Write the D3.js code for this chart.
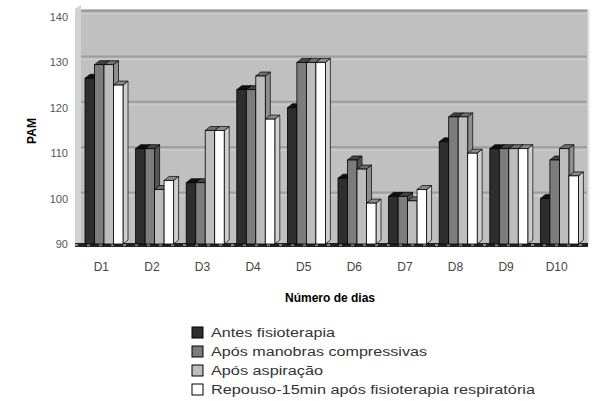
<!DOCTYPE html>
<html><head><meta charset="utf-8">
<script src="https://cdn.jsdelivr.net/npm/d3@7"></script>
<style>body{margin:0;background:#fff}svg{display:block}</style>
</head><body>
<script>
const categories = ["D1","D2","D3","D4","D5","D6","D7","D8","D9","D10"];
const seriesNames = ["Antes fisioterapia","Após manobras compressivas","Após aspiração","Repouso-15min após fisioterapia respiratória"];
const antes = [126.5,111,103.5,124,120,104.5,100.5,112.5,111,100];
const aposManobras = [129.5,111,103.5,124,130,108.5,100.5,118,111,108.5];
const aposAspiracao = [129.5,102,115,127,130,106.5,99.5,118,111,111];
const repouso = [125,104,115,117.5,130,99,102,110,111,105];
const yTicks = [90,100,110,120,130,140];

const series = [antes, aposManobras, aposAspiracao, repouso];
const fills = ["#2e2e2e","#7c7c7c","#bdbdbd","#ffffff"];
const sides = ["#1a1a1a","#555555","#8e8e8e","#cfcfcf"];
const tops = ["#111111","#444444","#6e6e6e","#8a8a8a"];

const W=593,H=401;
const svg=d3.select("body").append("svg").attr("width",W).attr("height",H).style("font-family","Liberation Sans, Arial, sans-serif");

const y=d3.scaleLinear().domain([90,140]).range([244,17]);
const x=d3.scaleBand().domain(categories).range([76,582]);
const dx=5, dy=4;

// plot area
svg.append("rect").attr("x",75).attr("y",9).attr("width",513).attr("height",236).attr("fill","#c0c0c0");
// left side wall
svg.append("polygon").attr("points",`75,9 81,5 81,241 75,245`).attr("fill","#d2d2d2");
svg.append("line").attr("x1",588.5).attr("x2",588.5).attr("y1",9).attr("y2",245).attr("stroke","#e2e2e2").attr("stroke-width",2);

// gridlines (back wall)
svg.append("g").selectAll("line").data(yTicks.filter(d=>d>90)).join("line")
  .attr("x1",81).attr("x2",587).attr("y1",d=>y(d)-6).attr("y2",d=>y(d)-6)
  .attr("stroke","#9c9c9c").attr("stroke-width",2);
svg.append("g").selectAll("line").data(yTicks.filter(d=>d>90)).join("line")
  .attr("x1",81).attr("x2",587).attr("y1",d=>y(d)-3).attr("y2",d=>y(d)-3)
  .attr("stroke","#d0d0d0").attr("stroke-width",1);

// floor
svg.append("rect").attr("x",75).attr("y",243).attr("width",513).attr("height",4).attr("fill","#222");
svg.append("line").attr("x1",75).attr("x2",588).attr("y1",245).attr("y2",245).attr("stroke","#eee").attr("stroke-width",1).attr("stroke-dasharray","3,9");

// bars
const bw=9.5, off=9;
const g=svg.append("g");
categories.forEach((c,i)=>{
  series.forEach((s,k)=>{
    const x0=x(c)+off+k*bw, x1=x0+bw, yt=y(s[i]), yb=y(90);
    g.append("polygon").attr("points",`${x1},${yt} ${x1+dx},${yt-dy} ${x1+dx},${yb-dy} ${x1},${yb}`)
      .attr("fill",sides[k]).attr("stroke","#000").attr("stroke-width",0.7);
    g.append("polygon").attr("points",`${x0},${yt} ${x0+dx},${yt-dy} ${x1+dx},${yt-dy} ${x1},${yt}`)
      .attr("fill",tops[k]).attr("stroke","#000").attr("stroke-width",0.7);
    g.append("rect").attr("x",x0).attr("y",yt).attr("width",bw).attr("height",yb-yt)
      .attr("fill",fills[k]).attr("stroke","#000").attr("stroke-width",0.8);
  });
});

// y axis labels
const yAxis=d3.axisLeft(y).tickValues(yTicks).tickSize(0).tickPadding(0);
const ya=svg.append("g").attr("transform","translate(68,0)").call(yAxis);
ya.select(".domain").remove();
ya.selectAll("text").attr("font-size",11).attr("fill","#555").attr("font-family","Liberation Sans, Arial, sans-serif");

// x axis labels
const xAxis=d3.axisBottom(x).tickSize(0).tickPadding(0);
const xa=svg.append("g").attr("transform","translate(0,262)").call(xAxis);
xa.select(".domain").remove();
xa.selectAll("text").attr("font-size",12).attr("fill","#444").attr("font-family","Liberation Sans, Arial, sans-serif");

// titles
svg.append("text").attr("x",330).attr("y",302).attr("text-anchor","middle").attr("font-size",12).attr("font-weight","bold").text("Número de dias");
svg.append("text").attr("transform","translate(36,131) rotate(-90)").attr("text-anchor","middle").attr("font-size",12).attr("font-weight","bold").text("PAM");

// legend
const legEnds=[335,427,323,535];
const leg=svg.append("g");
seriesNames.forEach((n,k)=>{
  const yy=327+k*19;
  leg.append("rect").attr("x",192).attr("y",yy).attr("width",11).attr("height",11).attr("fill",fills[k]).attr("stroke","#000").attr("stroke-width",1);
  leg.append("text").attr("x",211).attr("y",yy+10).attr("font-size",12).attr("fill","#333")
    .attr("textLength",legEnds[k]-211).attr("lengthAdjust","spacingAndGlyphs").text(n);
});
</script>
</body></html>
